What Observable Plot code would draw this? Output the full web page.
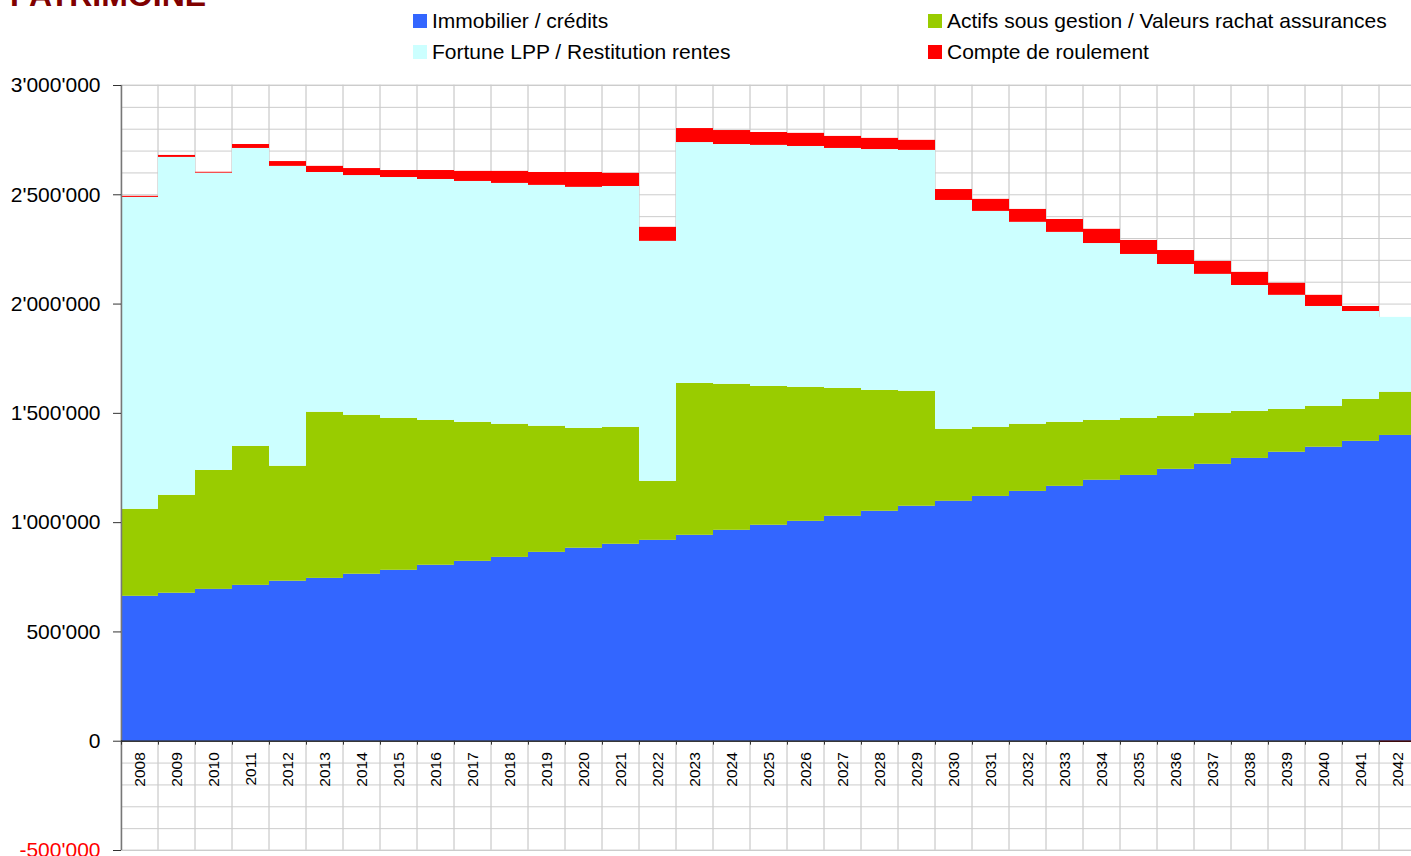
<!DOCTYPE html>
<html><head><meta charset="utf-8">
<script src="https://cdn.jsdelivr.net/npm/d3@7"></script>
<script src="https://cdn.jsdelivr.net/npm/@observablehq/plot@0.6"></script>
<style>
html,body{margin:0;padding:0;background:#fff;overflow:hidden;width:1411px;height:856px;}
body{position:relative;font-family:"Liberation Sans",Arial,sans-serif;}
#title{position:absolute;left:10px;top:-21px;font-size:32px;font-weight:bold;color:#800000;line-height:32px;white-space:nowrap;}
.leg{position:absolute;display:flex;align-items:center;font-size:21px;line-height:26px;white-space:nowrap;color:#000;}
.sw{width:14px;height:14px;margin-right:5px;flex:none;}
#chart{position:absolute;left:0;top:0;width:1417px;}
#chart svg{max-width:none !important;}
</style></head>
<body>
<div id="chart"></div>
<div id="title">PATRIMOINE</div>
<div id="legend"></div>
<script>
const years = [2008,2009,2010,2011,2012,2013,2014,2015,2016,2017,2018,2019,2020,2021,2022,2023,2024,2025,2026,2027,2028,2029,2030,2031,2032,2033,2034,2035,2036,2037,2038,2039,2040,2041,2042];
const seriesNames = ["Immobilier / crédits","Actifs sous gestion / Valeurs rachat assurances","Fortune LPP / Restitution rentes","Compte de roulement"];
const seriesColors = ["#3366FF","#99CC00","#CCFFFF","#FF0000"];
// values in CHF
const immobilier = [663000,677000,695000,713000,732000,745000,764000,782000,805000,823000,841000,864000,883000,901000,919000,942000,965000,988000,1006000,1029000,1052000,1075000,1098000,1120000,1143000,1166000,1194000,1216000,1244000,1267000,1294000,1322000,1345000,1372000,1399000];
const actifs = [398000,448000,544000,636000,526000,760000,727000,695000,663000,636000,609000,577000,548000,535000,270000,695000,668000,635000,613000,585000,553000,526000,329000,316000,307000,293000,274000,261000,242000,233000,215000,196000,187000,192000,197000];
const fortuneLPP = [1427000,1546000,1360000,1363000,1372000,1097000,1097000,1102000,1102000,1102000,1102000,1102000,1103000,1102000,1098000,1102000,1097000,1103000,1102000,1098000,1102000,1102000,1047000,988000,924000,869000,809000,750000,695000,636000,576000,522000,457000,402000,343000];
const compte = [5000,9000,4000,18000,22000,28000,32000,32000,41000,46000,55000,59000,68000,60000,64000,64000,64000,59000,60000,55000,51000,46000,50000,55000,59000,59000,65000,64000,64000,59000,60000,55000,51000,23000,-5000];
const yTicks = [-500000,0,500000,1000000,1500000,2000000,2500000,3000000];

const seriesValues = [immobilier, actifs, fortuneLPP, compte];
const rows = [];
years.forEach((yr, i) => {
  seriesNames.forEach((s, k) => rows.push({year: String(yr), series: s, value: seriesValues[k][i]}));
});
const yearStr = years.map(String);
const fmt = d => d3.format(",")(d).replace(/,/g, "'").replace("\u2212", "-");

const bw = 37;
const chart = Plot.plot({
  width: 1417,
  height: 856,
  marginLeft: 121,
  marginRight: 1,
  marginTop: 85,
  marginBottom: 6,
  style: {fontFamily: '"Liberation Sans", Arial, sans-serif', background: "transparent", maxWidth: "none"},
  x: {type: "band", domain: yearStr, padding: 0, axis: null},
  y: {domain: [-500000, 3000000], axis: null},
  color: {domain: seriesNames, range: seriesColors},
  marks: [
    Plot.barY(yearStr, {x: d => d, y1: -500000, y2: 3000000, fill: "none", stroke: "#d4d4d4", strokeWidth: 1}),
    Plot.ruleY(d3.range(-500000, 3000001, 100000), {stroke: "#cccccc", strokeWidth: 1}),
    Plot.barY(rows, {x: "year", y: "value", fill: "series", order: seriesNames}),
    Plot.ruleX(["2008"], {x: d => d, dx: -bw/2, y1: -500000, y2: 3000000, stroke: "#777", strokeWidth: 1.5}),
    Plot.ruleY([0], {stroke: "#000", strokeWidth: 1.2}),
    Plot.ruleX(yearStr, {x: d => d, dx: -bw/2, y1: 0, y2: -18000, stroke: "#333"}),
    Plot.text(yearStr, {x: d => d, y: 0, text: d => d, rotate: -90, textAnchor: "end", dy: 11, fontSize: 15.5, fill: "#000"}),
    Plot.axisY(yTicks.filter(t => t >= 0), {tickSize: 8, tickPadding: 13, tickFormat: fmt, fontSize: 21, fill: "#000", stroke: "#333", label: null}),
    Plot.axisY(yTicks.filter(t => t < 0), {tickSize: 8, tickPadding: 13, tickFormat: fmt, fontSize: 21, fill: "#FF0000", stroke: "#333", label: null})
  ]
});
document.getElementById("chart").appendChild(chart);

const legendPos = [[413, 8], [928, 8], [413, 39], [928, 39]];
const leg = document.getElementById("legend");
seriesNames.forEach((s, k) => {
  const d = document.createElement("div");
  d.className = "leg";
  d.style.left = legendPos[k][0] + "px";
  d.style.top = legendPos[k][1] + "px";
  const sw = document.createElement("div");
  sw.className = "sw";
  sw.style.background = seriesColors[k];
  const t = document.createElement("span");
  t.textContent = s;
  d.appendChild(sw); d.appendChild(t);
  leg.appendChild(d);
});
</script>
</body></html>
